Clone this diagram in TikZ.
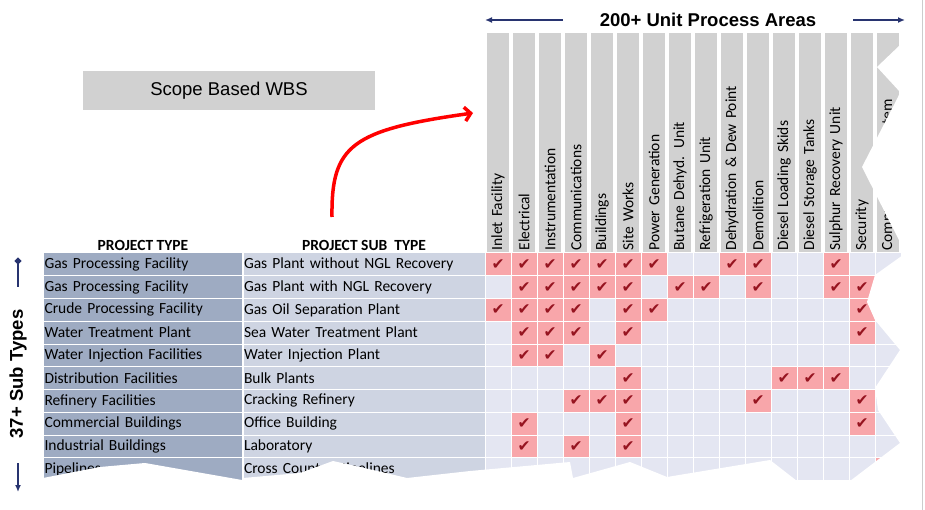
\documentclass[tikz,border=0pt]{standalone}
\usepackage{fontspec}
\setmainfont{Carlito}
\newfontfamily\arialfont{Liberation Sans}
\newfontfamily\symfont{DejaVu Sans}
\usetikzlibrary{positioning,arrows.meta}

\definecolor{typeblue}{RGB}{158,171,194}
\definecolor{subblue}{RGB}{206,212,226}
\definecolor{gridblue}{RGB}{228,230,242}
\definecolor{tickpink}{RGB}{248,166,170}
\definecolor{tickred}{RGB}{150,20,32}
\definecolor{headgray}{RGB}{209,209,209}
\definecolor{navy}{RGB}{40,52,112}

\newcommand{\chk}{{\symfont\color{tickred}\char"2714}}

\tikzset{
    cell/.style={
           rectangle,
           draw=white, line width=1pt,
           fill=gridblue,
           minimum width=26pt,
           minimum height=22.75pt,
           inner sep=0pt,
           },
    ticked/.style={cell, fill=tickpink, font=\fontsize{15.5}{15.5}\selectfont},
    typecell/.style={cell, fill=typeblue, text width=197pt, align=left,
           inner xsep=1pt, font=\fontsize{15.5}{15.5}\selectfont},
    subcell/.style={typecell, fill=subblue, text width=240pt},
    headcell/.style={cell, fill=headgray, rotate=90, anchor=west,
           text width=216pt, inner xsep=2pt, align=left,
           font=\fontsize{15.5}{15.5}\selectfont},
    colhead/.style={font=\bfseries\fontsize{15.5}{15.5}\selectfont, inner sep=1pt},
    bigtext/.style={font=\arialfont\bfseries\fontsize{18.5}{18.5}\selectfont},
    navyarrow/.style={navy, line width=2.5pt},
}

\begin{document}
\begin{tikzpicture}[x=1pt, y=-1pt]
    \useasboundingbox (0,0) rectangle (925,510);

    % title box
    \node[fill=headgray, minimum width=292pt, minimum height=39pt,
    font=\arialfont\fontsize{18.5}{18.5}\selectfont] (wbs) at (229,90.5)
    {Scope Based WBS};

    % unit process areas on top
    \node[bigtext] (areas) at (708,20) {200+ Unit Process Areas};
    \coordinate (areasL0) at (563,20);
    \coordinate (areasL) at (485,20);
    \coordinate (areasR0) at (853,20);
    \coordinate (areasR) at (905,20);
    \draw[navyarrow, line width=2pt, -{Latex[length=7pt,width=6pt]}] (areasL0) -- (areasL);
    \draw[navyarrow, line width=2pt, -{Latex[length=7pt,width=6pt]}] (areasR0) -- (areasR);

    % column heads (rotated)
    \foreach \c/\name in {1/Inlet Facility, 2/Electrical, 3/Instrumentation,
        4/Communications, 5/Buildings, 6/Site Works, 7/Power Generation,
        8/Butane Dehyd. Unit, 9/Refrigeration Unit, 10/Dehydration \& Dew Point,
        11/Demolition, 12/Diesel Loading Skids, 13/Diesel Storage Tanks,
        14/Sulphur Recovery Unit, 15/Security, 16/Compressed Air System}
        \node[headcell] (h-\c) at ({485+26*\c-13},253) {\name};

    % project types and sub types
    \foreach \r/\ptype/\psub in {1/Gas Processing Facility/Gas Plant without NGL Recovery,
        2/Gas Processing Facility/Gas Plant with NGL Recovery,
        3/Crude Processing Facility/Gas Oil Separation Plant,
        4/Water Treatment Plant/Sea Water Treatment Plant,
        5/Water Injection Facilities/Water Injection Plant,
        6/Distribution Facilities/Bulk Plants,
        7/Refinery Facilities/Cracking Refinery,
        8/Commercial Buildings/Office Building,
        9/Industrial Buildings/Laboratory,
        10/Pipelines/Cross Country Pipelines}
    {
        \node[typecell] (pt-\r) at (143,{253+22.75*(\r-0.5)}) {\ptype};
        \node[subcell] (ps-\r) at (364,{253+22.75*(\r-0.5)}) {\psub};
    }

    \node[colhead, above=1pt of pt-1] (ptype) {PROJECT TYPE};
    \node[colhead, above=1pt of ps-1] (psub) {PROJECT SUB~ TYPE};

    % the grid
    \foreach \r in {1,...,10}
        \foreach \c in {1,...,16}
            \node[cell] (g-\r-\c) at ({485+26*\c-13},{253+22.75*(\r-0.5)}) {};

    % ticked cells
    \foreach \r/\list in {1/{1,2,3,4,5,6,7,10,11,14}, 2/{2,3,4,5,6,8,9,11,14,15},
        3/{1,2,3,4,6,7,15}, 4/{2,3,4,6,15}, 5/{2,3,5}, 6/{6,12,13,14},
        7/{4,5,6,11,15}, 8/{2,6,15}, 9/{2,4,6}, 10/{16}}
        \foreach \c in \list
            \node[ticked] (k-\r-\c) at (g-\r-\c) {\chk};

    % torn edges
    \fill[white] (912,25) -- (900,25) -- (900,45) -- (877,67) -- (900,92)
        -- (898,97) -- (862,167) -- (903,248) -- (903,255) -- (875,275)
        -- (867,302) -- (875,320) -- (900,350) -- (875,388) -- (878,410)
        -- (900,443) -- (850,481) -- (912,500) -- cycle;
    \fill[white] (850,481) -- (797,481) -- (770,460) -- (667,477) -- (630,462)
        -- (573,478) -- (570,462) -- (470,471) -- (407,478) -- (373,470)
        -- (333,461) -- (300,473) -- (243,478) -- (242,480) -- (145,463)
        -- (100,467) -- (43,478) -- (40,500) -- (912,500) -- cycle;

    % sub types on the left
    \node[bigtext, rotate=90] (subtypes) at (18,374) {37+ Sub Types};
    \coordinate (upA) at (18,258);
    \coordinate (upB) at (18,287);
    \coordinate (dnA) at (18,463);
    \coordinate (dnB) at (18,492);
    \draw[navyarrow, {Circle[length=6pt]}-] (upA) -- (upB);
    \draw[navyarrow, -{Latex[length=7pt,width=6pt]}] (dnA) -- (dnB);

    % red arrow into the areas
    \coordinate (bend0) at (332,217);
    \coordinate (bend1) at (473,113);
    \draw[red, line width=3.5pt, -{Straight Barb[length=6pt,width=14pt]}]
        (bend0) .. controls (331,145) and (352,130) .. (bend1);

    % slide edge
    \draw[black!20, line width=1pt] (922,0) -- (922,510);
\end{tikzpicture}
\end{document}
